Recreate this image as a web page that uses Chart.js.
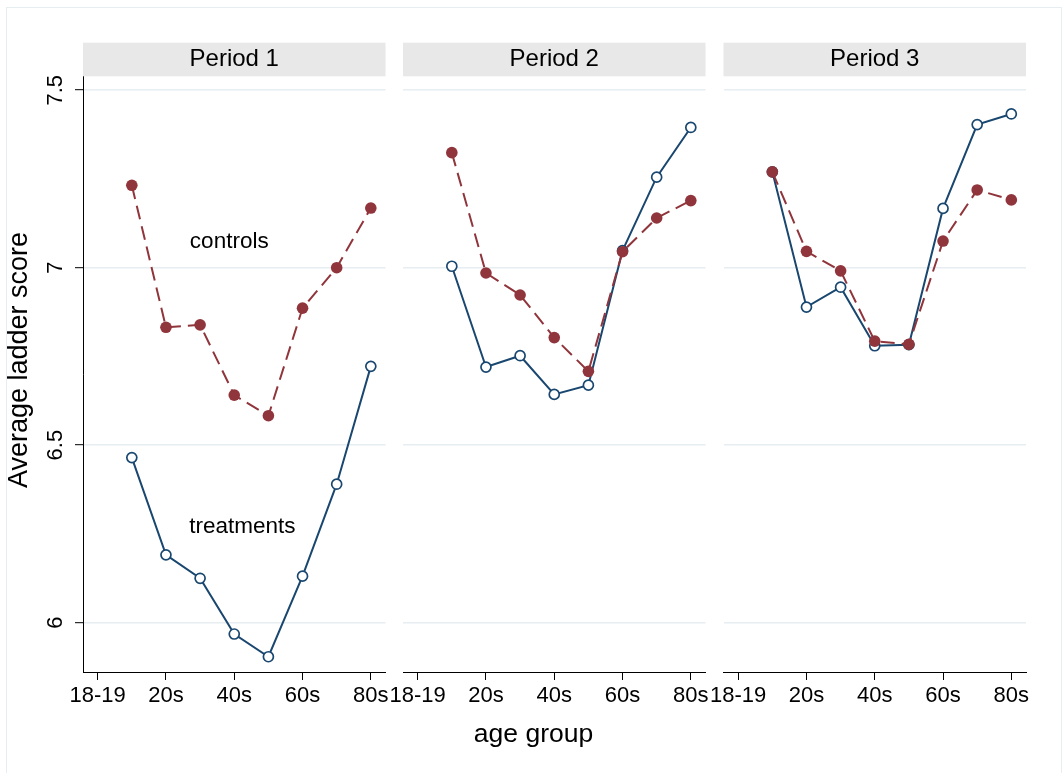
<!DOCTYPE html>
<html>
<head>
<meta charset="utf-8">
<script src="https://cdn.jsdelivr.net/npm/chart.js@4/dist/chart.umd.min.js"></script>
<style>
  html, body { margin: 0; padding: 0; background: #fff; }
  #wrap { position: relative; width: 1063px; height: 773px; overflow: hidden; background: #fff; }
  #frame { position: absolute; left: 6px; top: 7px; width: 1056px; height: 820px; border: 1px solid #e7eef1; box-sizing: border-box; }
  canvas { position: absolute; left: 0; top: 0; }
</style>
</head>
<body>
<div id="wrap">
  <div id="frame"></div>
  <canvas id="panel1" width="1063" height="773"></canvas>
  <canvas id="panel2" width="1063" height="773"></canvas>
  <canvas id="panel3" width="1063" height="773"></canvas>
</div>
<script>
// ---- data ----
const periods = ['Period 1', 'Period 2', 'Period 3'];
const ageGroupPos = [1, 2, 3, 4, 5, 6, 7, 8];
const xTickValues = [0, 2, 4, 6, 8];
const xTickLabels = ['18-19', '20s', '40s', '60s', '80s'];
const yTickValues = [6, 6.5, 7, 7.5];

const controlsP1   = [7.232, 6.832, 6.839, 6.641, 6.583, 6.886, 7.000, 7.168];
const treatmentsP1 = [6.465, 6.191, 6.125, 5.968, 5.904, 6.131, 6.390, 6.722];
const controlsP2   = [7.324, 6.985, 6.923, 6.803, 6.708, 7.045, 7.140, 7.189];
const treatmentsP2 = [7.004, 6.720, 6.752, 6.643, 6.669, 7.048, 7.255, 7.395];
const controlsP3   = [7.270, 7.046, 6.991, 6.793, 6.784, 7.075, 7.219, 7.191];
const treatmentsP3 = [7.270, 6.889, 6.945, 6.780, 6.783, 7.167, 7.403, 7.433];

// ---- look ----
const FONT = '"Liberation Sans", Arial, Helvetica, sans-serif';
const RED = '#90353b';
const BLUE = '#1a476f';
const GRID = '#e6eef1';
const STRIP = '#e8e8e8';

const W = 1063, H = 773;
const panelLeft = [83, 403, 723.5];
const panelRight = [385.5, 705.5, 1026];
const plotTop = 76.7, plotBottom = 672;
const stripTop = 42.7;
const X_AXIS_H = 40;

Chart.defaults.font.family = FONT;
Chart.defaults.color = '#000';

const toPoints = ys => ys.map((y, i) => ({ x: ageGroupPos[i], y }));

// grey header strip with the period name above each plot
const stripPlugin = {
  id: 'strip',
  afterDraw(chart, args, opts) {
    const { ctx, chartArea } = chart;
    ctx.save();
    ctx.fillStyle = STRIP;
    ctx.fillRect(chartArea.left, stripTop, chartArea.right - chartArea.left, plotTop - stripTop - 0.4);
    ctx.fillStyle = '#000';
    ctx.font = '24px ' + FONT;
    ctx.textAlign = 'center';
    ctx.textBaseline = 'alphabetic';
    ctx.fillText(opts.text, (chartArea.left + chartArea.right) / 2, 66);
    ctx.restore();
  }
};

// shared axis titles and the series labels in the first plot
const labelsPlugin = {
  id: 'figLabels',
  afterDraw(chart, args, opts) {
    if (!opts.show) return;
    const { ctx } = chart;
    const xs = chart.scales.x, ys = chart.scales.y;
    ctx.save();
    ctx.fillStyle = '#000';
    ctx.textBaseline = 'alphabetic';

    ctx.font = '27px ' + FONT;
    ctx.save();
    ctx.translate(27, 360);
    ctx.rotate(-Math.PI / 2);
    ctx.textAlign = 'center';
    ctx.fillText('Average ladder score', 0, 0);
    ctx.restore();

    ctx.font = '26.5px ' + FONT;
    ctx.textAlign = 'center';
    ctx.fillText('age group', 533.5, 742);

    ctx.font = '22.5px ' + FONT;
    ctx.textAlign = 'left';
    ctx.fillText('controls', xs.getPixelForValue(2.7), ys.getPixelForValue(7.056));
    ctx.fillText('treatments', xs.getPixelForValue(2.68), ys.getPixelForValue(6.253));
    ctx.restore();
  }
};

function makePanel(canvasId, idx, controls, treatments) {
  const first = idx === 0;
  return new Chart(document.getElementById(canvasId), {
    type: 'line',
    data: {
      datasets: [
        {
          label: 'controls',
          data: toPoints(controls),
          order: 0,
          borderColor: RED,
          backgroundColor: RED,
          borderWidth: 2,
          borderDash: [14, 7],
          tension: 0,
          pointRadius: 5.8,
          pointBackgroundColor: RED,
          pointBorderColor: RED,
          pointBorderWidth: 0
        },
        {
          label: 'treatments',
          data: toPoints(treatments),
          order: 1,
          borderColor: BLUE,
          backgroundColor: BLUE,
          borderWidth: 2,
          tension: 0,
          pointRadius: 5,
          pointBackgroundColor: '#fff',
          pointBorderColor: BLUE,
          pointBorderWidth: 1.7
        }
      ]
    },
    options: {
      responsive: false,
      animation: false,
      devicePixelRatio: 1,
      layout: {
        padding: {
          left: first ? 0 : panelLeft[idx],
          right: W - panelRight[idx],
          top: plotTop,
          bottom: H - plotBottom - X_AXIS_H
        }
      },
      scales: {
        x: {
          type: 'linear',
          min: -0.43,
          max: 8.43,
          afterBuildTicks: s => { s.ticks = xTickValues.map(v => ({ value: v })); },
          afterFit: s => { s.height = X_AXIS_H; },
          ticks: {
            autoSkip: false,
            maxRotation: 0,
            padding: 3,
            font: { size: 22 },
            color: '#000',
            callback: v => xTickLabels[xTickValues.indexOf(v)]
          },
          grid: {
            drawOnChartArea: false,
            drawTicks: true,
            tickLength: 8,
            tickColor: '#000',
            tickWidth: 1
          },
          border: { display: true, color: '#000', width: 1 }
        },
        y: {
          type: 'linear',
          min: 5.861,
          max: 7.538,
          afterBuildTicks: s => { s.ticks = yTickValues.map(v => ({ value: v })); },
          afterFit: s => { s.width = first ? panelLeft[0] : 0; },
          ticks: {
            display: first,
            minRotation: 90,
            maxRotation: 90,
            crossAlign: 'center',
            padding: 4,
            font: { size: 22 },
            color: '#000',
            callback: v => String(v)
          },
          grid: {
            color: GRID,
            lineWidth: 1.4,
            drawTicks: first,
            tickLength: 8,
            tickColor: '#000',
            tickWidth: 1
          },
          border: { display: first, color: '#000', width: 1 }
        }
      },
      plugins: {
        legend: { display: false },
        tooltip: { enabled: false },
        title: { display: false },
        strip: { text: periods[idx] },
        figLabels: { show: first }
      }
    },
    plugins: [stripPlugin, labelsPlugin]
  });
}

makePanel('panel1', 0, controlsP1, treatmentsP1);
makePanel('panel2', 1, controlsP2, treatmentsP2);
makePanel('panel3', 2, controlsP3, treatmentsP3);
</script>
</body>
</html>
